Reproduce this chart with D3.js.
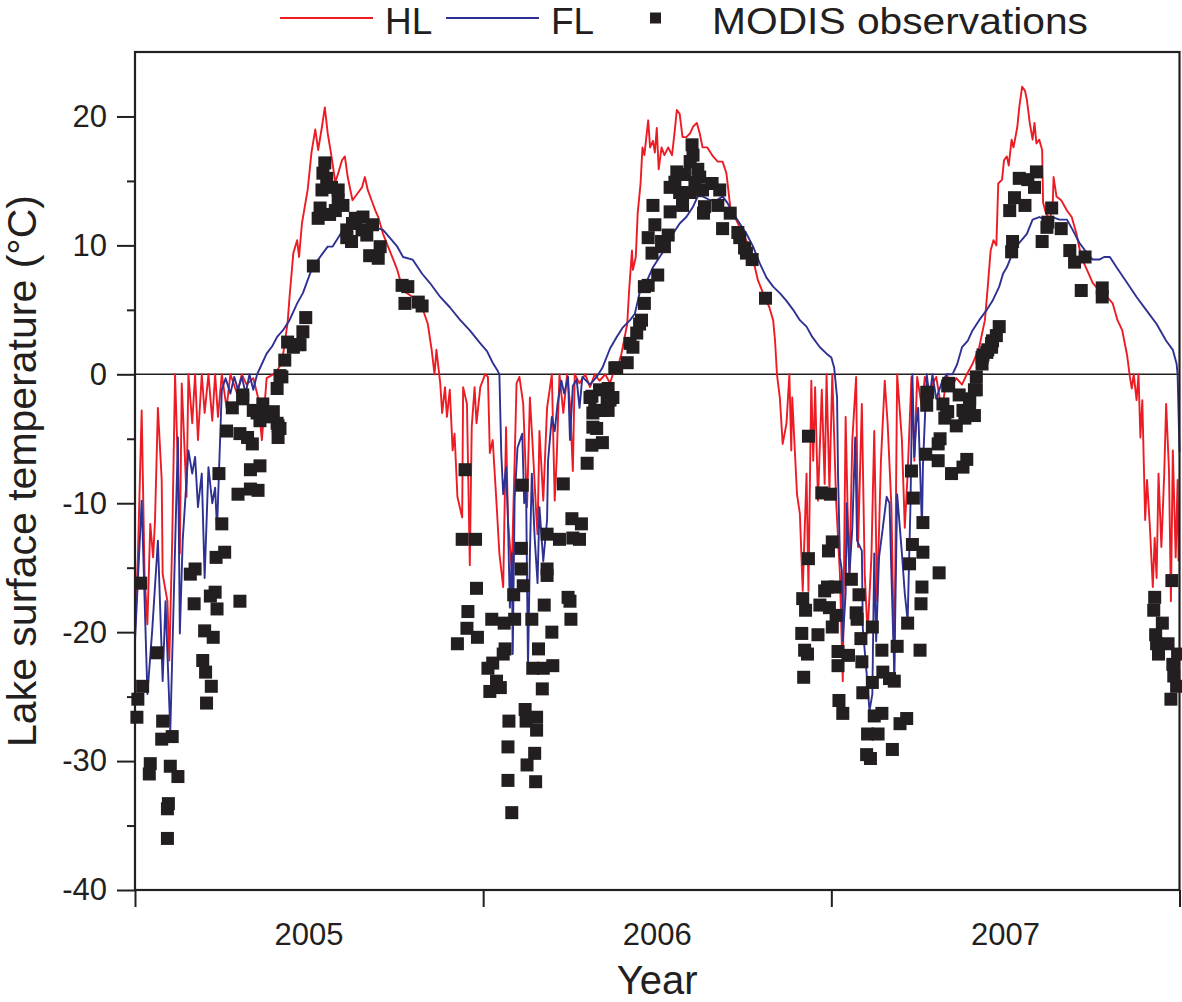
<!DOCTYPE html>
<html>
<head>
<meta charset="utf-8">
<script src="https://cdn.jsdelivr.net/npm/d3@7"></script>
<style>
  body { margin: 0; background: #fff; }
  text { font-family: Arial, "Liberation Sans", sans-serif; fill: #231f20; }
</style>
</head>
<body>
<div id="chart"></div>
<script>
"use strict";

// day index counted from 1 Jan 2005, temperature in deg C
const yearStarts = [0, 365, 730, 1095];
const yearLabels = ["2005", "2006", "2007"];
const yTicks = [-40, -30, -20, -10, 0, 10, 20];
const yMinorTicks = [-35, -25, -15, -5, 5, 15];

const hlData = [
  [0,-20],[3,-14.2],[7,-2.8],[10,-15.5],[13,-19.4],[16,-11.6],[19,-14.2],[21,-11.3],[24,-2.6],[28,-8.2],
  [29,-15.5],[34,-17.6],[36,-22.2],[39,-12.9],[42,0],[45,-7.2],[47,-13.9],[49,-0.7],[52,-5.9],[54,-9.5],
  [56,0],[60,-3.8],[63,0],[66,-5.1],[70,0],[73,-3],[77,0],[81,-3.6],[84,0],[87,-3.3],
  [91,0],[96,-2.6],[100,0],[107,-1.5],[112,0],[117,-0.8],[124,-0.3],[129,-1.8],[133,-5.1],[138,-0.3],
  [145,0],[149,0.3],[154,0.9],[160,4],[162,6],[166,9.4],[170,10.4],[172,9.1],[175,11.7],[178,13],
  [181,14.3],[185,17.2],[189,19],[192,17.4],[196,19.2],[199,20.7],[202,18.7],[206,16.9],[210,14.9],[213,15.6],
  [217,16.6],[220,16.9],[223,15.3],[228,13.5],[234,14.1],[238,14.5],[241,15.3],[244,14.3],[248,13.5],[252,12.7],
  [255,12.2],[260,10.9],[267,9.6],[275,8.1],[281,6.5],[291,6],[301,5.2],[307,3.9],[311,1.9],[314,0],
  [316,1.9],[320,-0.7],[322,-3],[325,-1],[327,-3.3],[330,-1.2],[333,-5.9],[335,-4.6],[338,-9.5],[343,-11.1],
  [344,-1],[348,-2.3],[351,-14.8],[353,-4.1],[356,-1],[358,-3.8],[362,-1],[367,0],[370,-0.2],[372,-6.1],
  [375,-5.1],[379,-10],[382,-13.9],[386,-16.5],[389,-4.1],[391,-11.3],[395,-15.2],[398,-6.7],[400,-0.7],[403,-0.2],
  [407,-2.3],[411,-10.3],[414,-1.8],[417,-5.7],[421,-11.3],[422,-12.4],[424,-4.4],[428,-9.8],[432,-2.6],[437,0],
  [440,-9.8],[442,-6.7],[445,0],[449,-3],[453,0],[456,-2.3],[459,-7.5],[461,0],[466,-0.7],[472,0],
  [477,-1],[482,0],[487,-0.5],[493,0],[498,-0.7],[501,0],[505,0.3],[510,1.6],[516,3.9],[518,6.5],
  [521,9.6],[522,8.1],[525,9.1],[527,12.5],[530,14.8],[532,17.6],[534,17],[538,19.7],[540,17.6],[543,18.1],
  [545,17.2],[547,19.1],[549,15.9],[552,17.6],[555,17],[559,17.6],[563,17],[566,19],[568,20.5],[571,20.2],
  [574,18.4],[578,18.4],[582,18.7],[585,19.2],[589,19.5],[592,18.7],[595,17.6],[600,17.6],[606,16.9],[611,16.5],
  [616,16.5],[620,15.6],[624,13],[627,12.5],[632,11.7],[637,10.9],[642,10.2],[648,8.9],[653,7.3],[660,6],
  [665,5.2],[669,4.2],[671,2.6],[673,0],[676,-1.8],[679,-5.4],[683,-3.8],[686,0],[688,-5.9],[689,-1.8],
  [694,-9.3],[697,-10.8],[700,-16.8],[704,-7.7],[706,-16.8],[709,-0.5],[711,-6.7],[713,-1],[716,-9.8],[720,-1.2],
  [723,-8.5],[725,0],[728,-9],[731,0],[735,-9.8],[739,-15.5],[742,-23.8],[745,-3.3],[747,-10.3],[749,-15.5],
  [752,-5.1],[756,-0.2],[758,-13.4],[762,-2.3],[765,-15.5],[768,-20.1],[772,-14.2],[775,-4.4],[778,-17.6],[782,-6.7],
  [786,-0.5],[789,-3.8],[793,-10.3],[796,-23.2],[799,0],[804,-5.1],[807,-11.9],[810,-7.7],[814,-0.2],[817,-6.7],
  [820,-0.2],[825,-2.6],[828,-0.2],[833,-1.2],[840,-0.2],[846,-3],[851,0],[856,-1],[861,-0.3],[867,-0.8],
  [872,0],[878,0.8],[885,2.1],[891,4.2],[894,6.8],[897,9.6],[900,10.4],[903,10],[905,14.8],[909,15.1],
  [911,16.6],[914,16.9],[916,16.2],[919,18.2],[921,17.6],[925,19.2],[927,20.7],[930,22.3],[933,22],[935,21.3],
  [938,19.5],[941,18.2],[943,19.5],[945,17.9],[948,18.2],[951,17.4],[952,13.3],[955,12.5],[959,12],[962,13],
  [963,15.3],[966,13.8],[971,13.5],[977,12.7],[982,12.2],[987,10.9],[992,9.1],[998,8.1],[1004,7.1],[1011,6.5],
  [1019,6],[1025,5.5],[1030,4.2],[1035,3.4],[1040,1.5],[1043,-0.2],[1045,-1.1],[1047,0],[1050,-2],[1052,0],
  [1054,-4.9],[1056,-2],[1059,-11.3],[1061,-8.2],[1064,-11.9],[1067,-16.5],[1069,-12.7],[1071,-15.8],[1073,-7.7],[1076,-13.4],
  [1079,-7.7],[1081,-2.3],[1084,-7.5],[1086,-17.6],[1088,-5.9],[1091,-14.2],[1093,-8.2],[1094,-14.5]
];

const flData = [
  [0,-20.7],[7,-9.8],[13,-24.8],[18,-19.9],[24,-12.9],[29,-23.8],[32,-17.6],[37,-27.7],[45,-4.9],[47,-20.1],
  [50,-12.9],[56,-5.9],[60,-7.7],[63,-6.4],[66,-10.3],[70,-7.7],[73,-15.8],[77,-7.2],[81,-10],[84,-8.8],
  [86,-12],[91,-1.2],[95,-0.3],[100,-1.5],[104,-0.2],[108,-1.2],[112,-0.2],[116,-1.5],[120,0],[124,-1.2],
  [128,0],[133,0.8],[138,1.6],[144,2.2],[149,2.9],[155,3.4],[162,4.2],[170,5.5],[176,6.3],[181,7.3],
  [185,8.1],[192,8.9],[197,9.4],[202,9.9],[207,9.9],[213,10.6],[218,11.2],[222,11.4],[227,11.4],[234,11.4],
  [243,11.4],[252,11.4],[260,11.2],[267,10.6],[275,9.9],[281,9.1],[291,8.9],[301,7.8],[309,7.1],[320,6],
  [330,5.2],[341,4.2],[351,3.4],[362,2.4],[369,1.8],[375,0.9],[380,0.3],[382,0],[384,-6.2],[386,-9.3],
  [389,-7.2],[391,-11.3],[393,-18.1],[395,-13.9],[396,-21.7],[398,-9.6],[401,-5.7],[406,-4.6],[408,-10],[410,-9],
  [412,-22.8],[414,-13.9],[416,-7.7],[419,-12.7],[422,-16.2],[424,-10.3],[428,-14.5],[432,-11.3],[433,-6.7],[437,-3.3],
  [440,-4.4],[443,-2.3],[447,-0.5],[450,-1.5],[454,-0.2],[456,-5.1],[459,-0.9],[463,-0.4],[466,-2.6],[469,-0.2],
  [477,-0.8],[484,-0.2],[490,0.5],[498,2],[505,2.9],[511,3.6],[519,4.2],[524,4.7],[529,6.3],[537,7.3],
  [543,8.3],[550,9.1],[557,9.9],[564,10.9],[571,11.7],[578,12.2],[585,13],[590,13.8],[595,13.8],[603,13.5],
  [610,13.5],[616,13.8],[621,13.3],[627,12.5],[634,11.7],[641,10.9],[648,9.9],[655,8.6],[662,7.5],[669,6.8],
  [676,6.3],[683,5.7],[690,5],[697,4.2],[704,3.7],[710,2.9],[718,2.1],[725,1.6],[730,1.3],[733,0.5],
  [736,-1.8],[737,-7.7],[739,-14.2],[741,-15.2],[742,-20.7],[745,-17],[746,-10],[749,-15.5],[752,-11.9],[755,-4.9],
  [757,-12.9],[762,-13.7],[763,-19.7],[767,-23.2],[770,-26.1],[773,-24.8],[775,-13.9],[777,-20.7],[780,-14.2],[784,-11.9],
  [788,-9.5],[791,-10],[793,-15.5],[796,-23.2],[799,-9.3],[804,-13.9],[807,-17],[810,-19.1],[813,-10],[815,0],
  [817,-6.4],[819,-3.8],[821,-2.6],[825,-11.9],[826,-7.2],[830,0],[833,-1.8],[836,0],[840,-1.9],[846,-0.6],
  [851,0],[857,0],[862,0.8],[867,2.1],[873,2.6],[878,3.4],[885,4.2],[893,5],[899,5.7],[906,6.8],
  [910,7.8],[914,8.3],[920,9.4],[927,10.2],[935,10.9],[941,12],[948,12.2],[956,11.9],[962,12.2],[969,12],
  [977,12],[983,11.2],[990,10.2],[998,9.4],[1004,8.9],[1011,8.9],[1016,9.1],[1022,9.1],[1029,8.3],[1040,7.1],
  [1050,6],[1060,5],[1071,3.9],[1081,2.6],[1088,1.9],[1092,0.8],[1093,0],[1094,-3],[1095,-6]
];

const modisData = [
  // winter / spring 2005
  [6,-16.2],[8,-24.2],[3,-25.2],[2,-26.6],[23,-21.6],[29,-26.9],[28,-28.3],[39,-28.1],[16,-30.2],[15,-31],
  [37,-30.4],[45,-31.2],[35,-33.3],[34,-33.7],[34,-36],[63,-15.1],[58,-15.5],[62,-17.8],[73,-19.9],[82,-20.4],
  [71,-22.2],[74,-23.1],[80,-24.2],[75,-25.5],[79,-17.2],[84,-16.9],[86,-18.2],[85,-14.2],[94,-13.8],[91,-11.6],
  [88,-7.7],[110,-17.6],[108,-9.3],[121,-8.9],[129,-9],[121,-7.4],[131,-7.1],[96,-4.4],[102,-2.6],[113,-1.6],
  [110,-4.6],[118,-4.9],[123,-5.4],[128,-3],[134,-2.3],[138,-3.3],[145,-2.9],[150,-4],[152,-4.2],[150,-4.9],
  [149,-1.1],[154,-0.2],[157,1.1],[166,2.1],[173,2.3],[113,-1.9],[124,-2.8],[131,-3.6],[141,-3],[149,-3.8],
  [152,-0.1],[160,2.5],[171,2.3],[176,3.3],[179,4.4],
  // summer 2005
  [187,8.4],[192,12.1],[194,12.9],[196,14.3],[197,15.6],[199,16.4],[201,15.2],[204,12.4],[213,14.3],[213,13.5],
  [218,13.1],[210,12.7],[222,11.2],[228,11.7],[231,12.1],[239,12.2],[238,11.2],[243,10.8],[227,10.3],[222,10.6],
  [249,11.6],[257,9.9],[246,9.2],[255,9],[280,6.9],[286,6.8],[283,5.5],[297,5.6],[301,5.3],[206,14.5],
  // winter 2005/06
  [346,-7.4],[343,-12.8],[357,-12.8],[358,-16.6],[349,-18.4],[348,-19.7],[359,-20.4],[338,-20.9],[374,-19],[387,-19.3],
  [398,-19],[416,-19],[388,-21.3],[386,-21.7],[375,-22.4],[370,-22.8],[379,-23.8],[372,-24.6],[383,-24.3],[406,-8.6],
  [405,-13.5],[405,-15.1],[407,-16.4],[397,-17.1],[429,-17.9],[432,-12.4],[445,-12.8],[432,-15.1],[432,-15.6],[449,-8.5],
  [458,-11.2],[468,-11.6],[459,-12.7],[466,-12.8],[454,-17.3],[456,-17.6],[457,-19],[437,-20],[423,-21.3],[417,-22.8],
  [428,-22.8],[438,-22.6],[427,-24.4],[409,-26],[421,-26.6],[410,-26.9],[421,-27.6],[392,-26.9],[391,-28.9],[419,-29.4],
  [411,-30.3],[391,-31.5],[420,-31.6],[395,-34],[479,-1.7],[487,-1.2],[495,-2],[480,-3],[490,-2.8],[501,-1.8],
  [496,-2.8],[484,-4.2],[479,-5.5],[490,-5.3],[474,-6.9],[503,0.5],[477,-1.8],[482,-2.8],[480,-4.1],[496,-1.1],
  [498,-2],
  // summer 2006
  [505,0.5],[516,0.9],[519,2.4],[522,2.1],[526,3.2],[529,3.9],[531,4.2],[534,5.5],[534,6.8],[538,6.9],
  [548,7.7],[542,9.4],[538,10.6],[545,11.6],[543,13.1],[561,12.6],[552,10.3],[559,10.8],[555,9.9],[561,14.5],
  [568,15.7],[566,14.9],[571,14.1],[574,13.1],[582,14.1],[576,15.5],[584,17.8],[585,17],[582,16.5],[590,15.9],
  [587,14.9],[592,15.3],[595,14.3],[605,14.8],[597,13],[596,12.5],[613,14.3],[611,13.1],[624,12.5],[616,11.3],
  [632,11],[634,10.6],[639,9.8],[641,9.4],[647,8.9],[661,5.9],
  // winter 2006/07
  [706,-4.8],[720,-9.2],[729,-9.3],[731,-13],[727,-13.7],[706,-14.3],[726,-16.5],[723,-16.8],[734,-16.5],[718,-17.9],
  [728,-18.1],[700,-17.4],[703,-18.3],[735,-18.7],[731,-19.6],[699,-20.1],[716,-20.2],[702,-21.4],[705,-21.7],[737,-21.5],
  [748,-21.8],[737,-22.6],[701,-23.5],[751,-15.9],[759,-17.1],[756,-18.5],[757,-19],[773,-19.6],[761,-20.5],[762,-22.3],
  [783,-21.4],[799,-21.1],[784,-23.1],[791,-23.6],[796,-23.8],[773,-23.9],[763,-24.7],[823,-21.4],[738,-25.3],[742,-26.3],
  [775,-26.5],[783,-26.3],[768,-27.9],[779,-27.9],[802,-27.1],[809,-26.7],[794,-29.1],[767,-29.5],[771,-29.8],[810,-19.3],
  [812,-14.7],[815,-13.2],[826,-13.8],[825,-16.5],[824,-17.8],[843,-15.4],[816,-9.6],[826,-11.5],[814,-7.5],[829,-6.2],
  [842,-6.7],[856,-7.7],[868,-7.2],[872,-6.6],[844,-5],[842,-5.4],[830,-1.4],[830,-2.4],[847,-2.3],[851,-2.9],
  [853,-0.7],[849,-3.4],[861,-4],[870,-3.4],[880,-3.2],[864,-1.6],[875,-2.2],[873,-2.8],[882,-1.2],[882,-0.2],
  [888,1.3],[893,1.7],[898,2.1],[899,2.6],[831,-1.4],[852,-0.9],[852,-2.9],[868,-2.8],[875,-1.9],[880,-1.2],
  [888,0.8],[889,1.5],[894,1.9],[898,2.4],[903,3],[906,3.7],
  // summer 2007
  [919,9.5],[920,10.3],[917,12.7],[922,13.7],[933,13.1],[927,15.2],[936,15.1],[945,15.7],[943,14.5],[961,12.9],
  [957,11.8],[956,11.4],[971,11.3],[951,10.3],[980,9.6],[985,8.7],[996,9.1],[992,6.5],[1014,6.7],[1014,6],
  // winter 2007/08
  [1087,-16],[1069,-17.3],[1068,-18.3],[1077,-19.3],[1070,-20.2],[1071,-20.9],[1083,-20.9],[1073,-21.7],[1088,-22.5],[1089,-23.4],
  [1092,-24.2],[1086,-25.2],[1093,-21.7]
];

const INK = "#231f20";
const HL_COLOR = "#ed1c24";
const FL_COLOR = "#2e3192";

const drawChart = () => {
    const margin = { top: 52, right: 2, bottom: 112, left: 135 },
        width = 1182 - margin.left - margin.right,
        height = 1002 - margin.top - margin.bottom;

    const svg = d3.select("#chart")
        .append("svg")
        .attr("width", 1182)
        .attr("height", 1002);

    const g = svg.append("g")
        .attr("transform", "translate(" + margin.left + "," + margin.top + ")");

    const x = d3.scaleLinear().domain([0, 1095]).range([0, width - 0.5]);
    const y = d3.scaleLinear().domain([-40, 25]).range([height, 0]);

    // zero line
    g.append("line")
        .attr("x1", 0).attr("x2", x(1095))
        .attr("y1", y(0)).attr("y2", y(0))
        .attr("stroke", INK)
        .attr("stroke-width", 1.5);

    const line = d3.line()
        .x(d => x(d[0]))
        .y(d => y(d[1]));

    g.append("path")
        .datum(hlData)
        .attr("fill", "none")
        .attr("stroke", HL_COLOR)
        .attr("stroke-width", 1.9)
        .attr("stroke-linejoin", "round")
        .attr("d", line);

    g.append("path")
        .datum(flData)
        .attr("fill", "none")
        .attr("stroke", FL_COLOR)
        .attr("stroke-width", 1.9)
        .attr("stroke-linejoin", "round")
        .attr("d", line);

    // MODIS squares
    const sq = 13;
    g.append("g")
        .selectAll("rect")
        .data(modisData)
        .enter()
        .append("rect")
        .attr("x", d => x(d[0]) - sq / 2)
        .attr("y", d => y(d[1]) - sq / 2)
        .attr("width", sq)
        .attr("height", sq)
        .attr("fill", INK);

    // left axis: major ticks with labels, minor ticks without
    const yAxis = g.append("g")
        .call(d3.axisLeft(y).tickValues(yTicks).tickSize(18).tickPadding(10).tickFormat(d => String(d)));
    yAxis.select(".domain").remove();
    yAxis.selectAll("line").attr("stroke", INK).attr("stroke-width", 2);
    yAxis.selectAll("text")
        .attr("fill", INK)
        .style("font-size", "31px");

    const yMinor = g.append("g")
        .call(d3.axisLeft(y).tickValues(yMinorTicks).tickSize(8).tickFormat(""));
    yMinor.select(".domain").remove();
    yMinor.selectAll("line").attr("stroke", INK).attr("stroke-width", 2);

    // bottom axis: ticks at year boundaries, labels centred in each year
    const xAxis = g.append("g")
        .attr("transform", "translate(0," + height + ")")
        .call(d3.axisBottom(x).tickValues(yearStarts).tickSize(17).tickFormat(""));
    xAxis.select(".domain").remove();
    xAxis.selectAll("line").attr("stroke", INK).attr("stroke-width", 2);

    g.append("g")
        .selectAll("text")
        .data(yearLabels)
        .enter()
        .append("text")
        .attr("x", (d, i) => x((yearStarts[i] + yearStarts[i + 1]) / 2))
        .attr("y", height + 55)
        .attr("text-anchor", "middle")
        .style("font-size", "31px")
        .text(d => d);

    // frame
    g.append("rect")
        .attr("x", 0).attr("y", 0)
        .attr("width", x(1095)).attr("height", height)
        .attr("fill", "none")
        .attr("stroke", INK)
        .attr("stroke-width", 2.2);

    // axis titles
    svg.append("text")
        .attr("x", margin.left + x(547.5))
        .attr("y", 994)
        .attr("text-anchor", "middle")
        .style("font-size", "40px")
        .text("Year");

    svg.append("text")
        .attr("transform", "translate(36," + 471 + ") rotate(-90)")
        .attr("text-anchor", "middle")
        .style("font-size", "41px")
        .text("Lake surface temperature (°C)");

    // legend
    const legend = svg.append("g");
    legend.append("line")
        .attr("x1", 280).attr("x2", 373).attr("y1", 18).attr("y2", 18)
        .attr("stroke", HL_COLOR).attr("stroke-width", 2);
    legend.append("text")
        .attr("x", 385).attr("y", 34)
        .style("font-size", "37px")
        .text("HL");
    legend.append("line")
        .attr("x1", 446).attr("x2", 539).attr("y1", 18).attr("y2", 18)
        .attr("stroke", FL_COLOR).attr("stroke-width", 2);
    legend.append("text")
        .attr("x", 551).attr("y", 34)
        .style("font-size", "37px")
        .text("FL");
    legend.append("rect")
        .attr("x", 650).attr("y", 12.5).attr("width", 11).attr("height", 11)
        .attr("fill", INK);
    legend.append("text")
        .attr("x", 712).attr("y", 34)
        .style("font-size", "37px")
        .attr("textLength", 376)
        .attr("lengthAdjust", "spacingAndGlyphs")
        .text("MODIS observations");
}

window.addEventListener("load", () => {
    drawChart();
});
</script>
</body>
</html>
